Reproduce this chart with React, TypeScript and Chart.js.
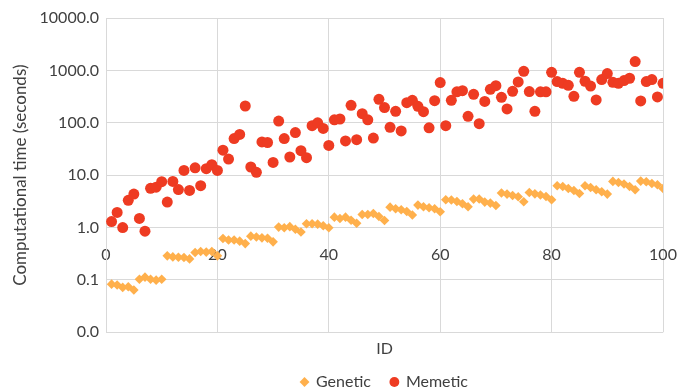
import React, { useEffect, useRef } from 'react';
import { Chart, registerables } from 'chart.js';

Chart.register(...registerables);

// ---------- data ----------
const ids = [
  1, 2, 3, 4, 5, 6, 7, 8, 9, 10,
  11, 12, 13, 14, 15, 16, 17, 18, 19, 20,
  21, 22, 23, 24, 25, 26, 27, 28, 29, 30,
  31, 32, 33, 34, 35, 36, 37, 38, 39, 40,
  41, 42, 43, 44, 45, 46, 47, 48, 49, 50,
  51, 52, 53, 54, 55, 56, 57, 58, 59, 60,
  61, 62, 63, 64, 65, 66, 67, 68, 69, 70,
  71, 72, 73, 74, 75, 76, 77, 78, 79, 80,
  81, 82, 83, 84, 85, 86, 87, 88, 89, 90,
  91, 92, 93, 94, 95, 96, 97, 98, 99, 100,
];

const geneticTimes = [
  0.083, 0.080, 0.072, 0.074, 0.064, 0.103, 0.113, 0.103, 0.099, 0.103,
  0.288, 0.275, 0.270, 0.268, 0.252, 0.333, 0.348, 0.340, 0.348, 0.288,
  0.616, 0.58, 0.58, 0.55, 0.494, 0.684, 0.66, 0.635, 0.625, 0.533,
  1.02, 0.99, 1.04, 0.93, 0.82, 1.18, 1.18, 1.16, 1.08, 0.99,
  1.58, 1.49, 1.58, 1.38, 1.21, 1.77, 1.77, 1.85, 1.62, 1.36,
  2.45, 2.28, 2.18, 2.02, 1.73, 2.68, 2.49, 2.38, 2.28, 2.0,
  3.39, 3.35, 3.14, 2.84, 2.49, 3.49, 3.5, 3.06, 2.93, 2.63,
  4.55, 4.35, 4.09, 3.86, 3.1, 4.67, 4.4, 4.17, 3.92, 3.39,
  6.27, 6.08, 5.57, 5.1, 4.47, 6.27, 5.82, 5.26, 4.82, 4.35,
  7.6, 7.25, 6.76, 6.08, 5.26, 7.7, 7.5, 6.93, 6.55, 5.57,
];

const memeticTimes = [
  1.3, 1.94, 1.0, 3.3, 4.35, 1.49, 0.85, 5.6, 5.9, 7.5,
  3.06, 7.6, 5.3, 12.3, 5.1, 13.8, 6.3, 13.3, 15.8, 12.3,
  30, 20.3, 50, 60, 209, 14.3, 11.3, 43, 42, 17.5,
  108, 50, 22.2, 65, 29.3, 21.5, 88, 100, 78, 37,
  114, 118, 45, 215, 47.5, 149, 114, 51, 280, 195,
  82, 165, 70, 242, 268, 206, 163, 80, 264, 585,
  88, 268, 389, 410, 133, 350, 96, 256, 436, 510,
  306, 184, 398, 603, 960, 394, 165, 389, 389, 920,
  611, 566, 519, 320, 920, 620, 503, 273, 667, 870,
  593, 566, 638, 708, 1473, 261, 611, 667, 311, 566,
];

const yTickValues = [0.01, 0.1, 1, 10, 100, 1000, 10000];
const xMin = 0;
const xMax = 100;
const xStep = 20;
const seriesNames = ['Genetic', 'Memetic'];
const yTitle = 'Computational time (seconds)';
const xTitle = 'ID';

// ---------- component ----------
export default function App() {
  const canvasRef = useRef<HTMLCanvasElement | null>(null);

  useEffect(() => {
    const FONT = "Lato, 'Liberation Sans', sans-serif";
    Chart.defaults.font.family = FONT;
    Chart.defaults.font.size = 16;
    Chart.defaults.color = '#404040';

    const gridColor = '#D9D9D9';

    const chart = new Chart(canvasRef.current as HTMLCanvasElement, {
      type: 'scatter',
      data: {
        datasets: [
          {
            label: seriesNames[0],
            data: ids.map((id, i) => ({ x: id, y: geneticTimes[i] })),
            pointStyle: 'rectRot',
            pointRadius: 4.8,
            pointHoverRadius: 4.8,
            backgroundColor: '#FFB04C',
            borderColor: '#FFB04C',
            borderWidth: 0,
          },
          {
            label: seriesNames[1],
            data: ids.map((id, i) => ({ x: id, y: memeticTimes[i] })),
            pointStyle: 'circle',
            pointRadius: 5.5,
            pointHoverRadius: 5.5,
            backgroundColor: '#EE3B22',
            borderColor: '#EE3B22',
            borderWidth: 0,
          },
        ],
      },
      options: {
        animation: false,
        responsive: false,
        maintainAspectRatio: false,
        layout: { padding: { top: 18, right: 15, left: 0, bottom: -11 } },
        plugins: {
          tooltip: { enabled: false },
          legend: {
            display: true,
            position: 'bottom',
            fullSize: false,
            labels: {
              usePointStyle: true,
              boxWidth: 7,
              boxHeight: 7,
              padding: 20,
              color: '#404040',
              font: { size: 16, family: FONT },
            },
          },
        },
        scales: {
          x: {
            type: 'linear',
            axis: 'x',
            position: { y: 1 } as any,
            min: xMin,
            max: xMax,
            ticks: {
              stepSize: xStep,
              padding: 18,
              color: '#404040',
              font: { size: 16, family: FONT },
            },
            grid: { color: gridColor, lineWidth: 1, drawTicks: false },
            border: { display: true, color: gridColor },
            afterFit: (scale: any) => {
              scale.paddingLeft = 0;
              scale.paddingRight = 0;
            },
          },
          x2: {
            type: 'linear',
            axis: 'x',
            position: 'bottom',
            min: xMin,
            max: xMax,
            ticks: { display: false },
            grid: { display: false, drawTicks: false },
            border: { display: false },
            title: {
              display: true,
              text: xTitle,
              color: '#404040',
              font: { size: 16, family: FONT },
              padding: { top: 0, bottom: -4.6 },
            },
            afterFit: (scale: any) => {
              scale.height = 21.7;
              scale.paddingLeft = 0;
              scale.paddingRight = 0;
            },
          },
          y: {
            type: 'logarithmic',
            position: 'left',
            min: yTickValues[0],
            max: yTickValues[yTickValues.length - 1],
            afterBuildTicks: (scale: any) => {
              scale.ticks = yTickValues.map((v) => ({ value: v }));
            },
            ticks: {
              padding: 7,
              color: '#404040',
              font: { size: 16, family: FONT },
              callback: (v: any) => Number(v).toFixed(1),
            },
            grid: { color: gridColor, lineWidth: 1, drawTicks: false },
            border: { display: true, color: gridColor },
            title: {
              display: true,
              text: yTitle,
              color: '#404040',
              font: { size: 17, family: FONT },
              padding: { top: 10, bottom: 0 },
            },
            afterFit: (scale: any) => {
              scale.width = 106;
            },
          },
        },
      },
    });

    return () => {
      chart.destroy();
    };
  }, []);

  return (
    <div style={{ position: 'fixed', left: 0, top: 0, width: 678, height: 389, background: '#fff' }}>
      <canvas ref={canvasRef} width={678} height={389} style={{ display: 'block' }} />
    </div>
  );
}
